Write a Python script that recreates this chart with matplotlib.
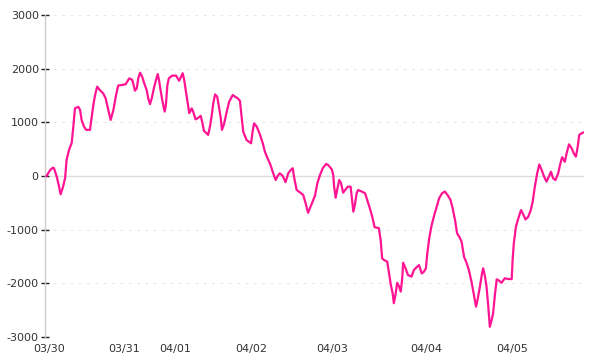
import matplotlib
matplotlib.use("Agg")
import matplotlib.pyplot as plt

# sample position (index along the category axis) and value
t = [0.5, 1.7, 2.6, 3.0, 3.9, 4.7, 5.2, 5.9, 6.7, 7.2, 8.0, 8.9, 9.4, 10.0, 11.1, 11.7,
     12.2, 13.0, 13.7, 15.0, 15.6, 16.1, 16.7, 17.4, 18.3, 19.4, 20.2, 21.1, 21.9, 22.8,
     23.7, 24.4, 25.6, 26.9, 28.1, 29.1, 30.0, 30.6, 31.1, 31.7, 32.4, 33.1, 33.9, 34.4,
     35.0, 35.6, 36.3, 37.0, 37.6, 38.1, 38.7, 39.2, 39.9, 40.3, 40.8, 41.3, 42.4, 43.7,
     44.7, 45.3, 45.9, 46.4, 47.0, 47.4, 48.1, 48.9, 49.4, 50.2, 51.1, 51.9, 52.4, 53.0,
     53.9, 54.4, 55.0, 55.6, 56.1, 56.7, 57.4, 58.0, 58.6, 59.0, 59.7, 60.6, 61.4, 62.6,
     63.3, 64.2, 65.0, 65.6, 66.1, 67.2, 68.7, 69.2, 69.7, 70.6, 71.7, 72.6, 73.3, 74.2,
     75.2, 75.9, 76.9, 77.6, 78.3, 79.2, 80.2, 81.1, 81.9, 82.6, 83.0, 83.9, 85.0, 86.1,
     86.9, 87.7, 88.6, 89.4, 90.0, 90.8, 91.7, 92.6, 93.7, 94.4, 95.6, 96.1, 96.4, 96.9,
     97.4, 98.1, 98.7, 99.4, 100.2, 100.9, 101.9, 102.3, 102.8, 103.3, 103.9, 104.4, 105.6,
     106.7, 107.4, 108.3, 109.1, 109.9, 111.3, 111.9, 112.4, 113.0, 114.1, 114.7, 115.3,
     115.9, 116.3, 116.9, 117.4, 118.0, 118.6, 119.1, 119.4, 120.2, 121.0, 122.2, 123.0,
     123.9, 124.7, 125.6, 126.3, 127.0, 127.4, 128.1, 128.9, 129.8, 130.6, 131.4, 132.4,
     133.3, 134.2, 135.2, 135.9, 136.7, 137.4, 138.1, 138.9, 139.7, 140.6, 141.3, 142.2,
     143.0, 143.7, 144.2, 145.0, 145.7, 146.1, 146.7, 147.2, 147.8, 148.3, 148.9, 149.4,
     150.0, 150.6, 151.4, 152.2, 153.3, 154.4, 155.6, 155.9, 156.3, 157.0, 157.8, 158.7,
     159.4, 160.2, 161.1, 161.9, 162.6, 163.3, 164.1, 164.8, 165.6, 166.3, 167.2, 168.0,
     168.7, 169.4, 170.2, 171.1, 171.7, 172.4, 173.3, 173.9, 174.7, 175.6, 176.3, 177.0,
     177.6, 178.1, 178.9, 179.7]
values = [0, 110, 155, 145, -10, -200, -340, -225, -40, 300, 485, 615, 895, 1260, 1290, 1230,
          1045, 920, 860, 860, 1105, 1320, 1510, 1665, 1600, 1540, 1450, 1230, 1045, 1230,
          1510, 1685, 1695, 1710, 1820, 1790, 1590, 1635, 1820, 1925, 1850, 1725, 1600, 1450,
          1340, 1450, 1635, 1790, 1900, 1755, 1540, 1385, 1200, 1320, 1695, 1820, 1870, 1870,
          1775, 1840, 1915, 1790, 1570, 1415, 1170, 1260, 1200, 1055, 1085, 1120, 1010, 840,
          795, 765, 920, 1135, 1355, 1520, 1480, 1290, 1075, 860, 970, 1200, 1385, 1510,
          1480, 1450, 1400, 1075, 825, 670, 610, 825, 980, 920, 765, 610, 455, 330,
          205, 80, -75, 5, 50, 5, -115, 50, 110, 145, -10, -260, -305, -355,
          -510, -685, -560, -445, -370, -135, 20, 145, 225, 205, 125, 20, -200, -405,
          -260, -75, -135, -310, -250, -200, -200, -415, -665, -540, -320, -260, -290,
          -320, -445, -600, -760, -955, -970, -1190, -1535, -1565, -1595, -1810, -2030,
          -2185, -2370, -2200, -1990, -2050, -2155, -1905, -1615, -1720, -1845, -1875, -1750,
          -1700, -1660, -1815, -1785, -1720, -1470, -1160, -915, -725, -570, -415, -320,
          -290, -355, -445, -600, -820, -1070, -1130, -1225, -1505, -1625, -1750, -1970,
          -2215, -2435, -2310, -2060, -1815, -1720, -1875, -2060, -2435, -2810, -2685, -2560,
          -2215, -1925, -1950, -1990, -1905, -1920, -1920, -1565, -1255, -945, -790, -635,
          -710, -810, -760, -645, -480, -200, 50, 215, 110, 0, -105, -10,
          80, -45, -75, 50, 205, 350, 265, 420, 590, 515, 420, 360,
          545, 765, 795, 815]

x_tick_pos = [1.3, 26.3, 43.3, 68.7, 95.7, 127.0, 155.7]
x_tick_labels = ["03/30", "03/31", "04/01", "04/02", "04/03", "04/04", "04/05"]
y_ticks = [-3000, -2000, -1000, 0, 1000, 2000, 3000]

fig = plt.figure(figsize=(6, 3.6), dpi=100)
ax = fig.add_axes([45 / 600, 1 - 337 / 360, (584 - 45) / 600, (337 - 15) / 360])

for yv in y_ticks:
    if yv == 0:
        ax.axhline(yv, color="#dddddd", lw=1.0, zorder=1)
    else:
        ax.axhline(yv, color="#e6e6e6", lw=0.8, linestyle=(0, (2.5, 5)), zorder=1)

ax.plot(t, values, color="#ff1493", lw=1.6, zorder=3, solid_joinstyle="round")

ax.set_xlim(0, 179.7)
ax.set_ylim(-3000, 3000)
ax.set_yticks(y_ticks)
ax.set_yticklabels([str(v) for v in y_ticks])
ax.set_xticks(x_tick_pos)
ax.set_xticklabels(x_tick_labels)

for s in ["top", "right", "bottom"]:
    ax.spines[s].set_visible(False)
ax.spines["left"].set_color("#cccccc")
ax.spines["left"].set_linewidth(1.0)

ax.tick_params(axis="y", direction="inout", length=6, width=1.0, color="#222222",
               labelsize=8, labelcolor="#333333", pad=1.5)
ax.tick_params(axis="x", length=0, labelsize=8, labelcolor="#333333", pad=5)

fig.savefig("out.png", dpi=100)
